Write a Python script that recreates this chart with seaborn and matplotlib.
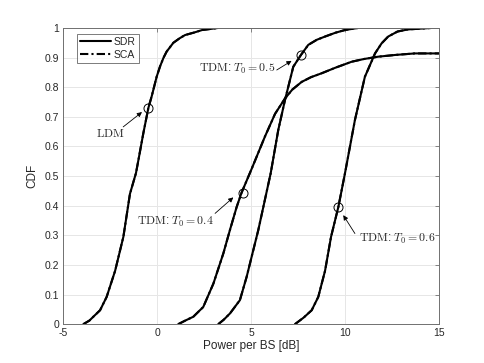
import pandas as pd
import matplotlib.pyplot as plt
import seaborn as sns
from matplotlib.lines import Line2D

# CDF of power per BS (SDR and SCA curves overlap)
ldm_x = [-3.92, -3.6, -3.39, -3.03, -2.68, -2.23, -1.79, -1.44, -1.12, -0.99, -0.73, -0.46,
         -0.28, -0.02, 0.16, 0.35, 0.51, 0.87, 1.2, 1.49, 2.0, 2.4, 3.25, 15]
ldm_y = [0, 0.012, 0.025, 0.047, 0.092, 0.18, 0.295, 0.44, 0.51, 0.554, 0.644, 0.73,
         0.77, 0.835, 0.87, 0.9, 0.92, 0.95, 0.965, 0.976, 0.985, 0.993, 1.0, 1.0]

tdm04_x = [1.13, 1.5, 1.93, 2.46, 3.0, 3.53, 3.88, 4.24, 4.5, 5.04, 5.74, 6.28, 6.81,
           7.2, 7.7, 8.2, 8.76, 9.5, 10.36, 11.0, 11.77, 12.7, 13.72, 15]
tdm04_y = [0, 0.012, 0.025, 0.058, 0.137, 0.239, 0.318, 0.396, 0.444, 0.525, 0.633, 0.71, 0.762,
           0.792, 0.818, 0.834, 0.847, 0.866, 0.886, 0.895, 0.903, 0.909, 0.914, 0.914]

tdm05_x = [3.26, 3.55, 3.88, 4.41, 4.77, 5.39, 6.05, 6.45, 6.81, 7.25, 7.66, 8.05, 8.5, 8.94,
           9.5, 10.0, 10.7, 15]
tdm05_y = [0, 0.015, 0.036, 0.081, 0.16, 0.318, 0.51, 0.655, 0.757, 0.869, 0.909, 0.943, 0.96, 0.971,
           0.984, 0.993, 1.0, 1.0]

tdm06_x = [7.34, 7.8, 8.23, 8.58, 8.94, 9.26, 9.65, 10.0, 10.53, 11.06, 11.6, 11.95, 12.3, 12.8,
           13.35, 14.6, 15]
tdm06_y = [0, 0.022, 0.047, 0.092, 0.18, 0.295, 0.396, 0.509, 0.689, 0.835, 0.914, 0.948, 0.971, 0.988,
           0.995, 1.0, 1.0]

# annotation labels, circled points, arrow tail/head and label centre
labels = [r'$\mathrm{LDM}$', r'$\mathrm{TDM}$: $T_0 = 0.4$',
          r'$\mathrm{TDM}$: $T_0 = 0.5$', r'$\mathrm{TDM}$: $T_0 = 0.6$']
circle_x = [-0.46, 4.59, 7.64, 9.64]
circle_y = [0.73, 0.444, 0.909, 0.397]
tail_xy = [(-1.8, 0.666), (3.09, 0.374), (6.37, 0.858), (10.53, 0.306)]
head_xy = [(-0.8, 0.716), (4.06, 0.428), (7.16, 0.889), (9.91, 0.368)]
text_xy = [(-2.5, 0.642), (0.98, 0.346), (4.28, 0.861), (12.8, 0.286)]

curves = {'LDM': (ldm_x, ldm_y), 'T0=0.4': (tdm04_x, tdm04_y),
          'T0=0.5': (tdm05_x, tdm05_y), 'T0=0.6': (tdm06_x, tdm06_y)}
rows = []
for method in ['SDR', 'SCA']:
    for scheme, (xs, ys) in curves.items():
        for x, y in zip(xs, ys):
            rows.append({'power': x, 'cdf': y, 'scheme': scheme, 'method': method})
df = pd.DataFrame(rows)

sns.set_style('white')
plt.rcParams['font.family'] = ['Liberation Sans', 'DejaVu Sans']
plt.rcParams['mathtext.fontset'] = 'cm'
plt.rcParams['axes.unicode_minus'] = False
axis_col = '#707070'

fig = plt.figure(figsize=(4.85, 3.63), dpi=100)
ax = fig.add_axes([0.13, 0.107, 0.775, 0.816])

sns.lineplot(data=df, x='power', y='cdf', units='scheme', style='method',
             estimator=None, sort=False, color='black', linewidth=1.5,
             dashes={'SDR': '', 'SCA': (4, 1.5, 1, 1.5)}, legend=False, ax=ax)

ax.plot(circle_x, circle_y, 'o', mfc='none', mec='black', ms=6.5, mew=0.7)
for lab, t, h, c in zip(labels, tail_xy, head_xy, text_xy):
    ax.annotate('', xy=h, xytext=t,
                arrowprops=dict(arrowstyle='-|>', color='black', lw=0.6,
                                mutation_scale=7, shrinkA=0, shrinkB=0))
    ax.text(c[0], c[1], lab, ha='center', va='center', fontsize=8.5)

ax.set_xlim(-5, 15)
ax.set_ylim(0, 1)
ax.set_xticks([-5, 0, 5, 10, 15])
ax.set_yticks([i / 10 for i in range(11)])
ax.set_yticklabels(['0'] + ['%.1f' % (i / 10) for i in range(1, 10)] + ['1'])
ax.grid(True, color='#e6e6e6', linewidth=0.7)
ax.set_axisbelow(True)
for s in ax.spines.values():
    s.set_color(axis_col)
    s.set_linewidth(0.7)
ax.tick_params(direction='in', length=3, width=0.6, color=axis_col,
               labelsize=7.5, top=True, right=True, pad=3)
ax.set_xlabel('Power per BS [dB]', fontsize=8.5, labelpad=1)
ax.set_ylabel('CDF', fontsize=8.5, labelpad=4)

handles = [Line2D([], [], color='black', lw=1.5, ls='-'),
           Line2D([], [], color='black', lw=1.5, ls=(0, (4, 1.5, 1, 1.5)))]
leg = ax.legend(handles, ['SDR', 'SCA'], loc='upper left', fontsize=7.5,
                bbox_to_anchor=(0.038, 0.98), frameon=True, fancybox=False,
                handlelength=2.9, handletextpad=0.3, borderpad=0.3, labelspacing=0.25,
                borderaxespad=0)
leg.get_frame().set_edgecolor('#404040')
leg.get_frame().set_linewidth(0.6)

fig.savefig('out.png', dpi=100)
